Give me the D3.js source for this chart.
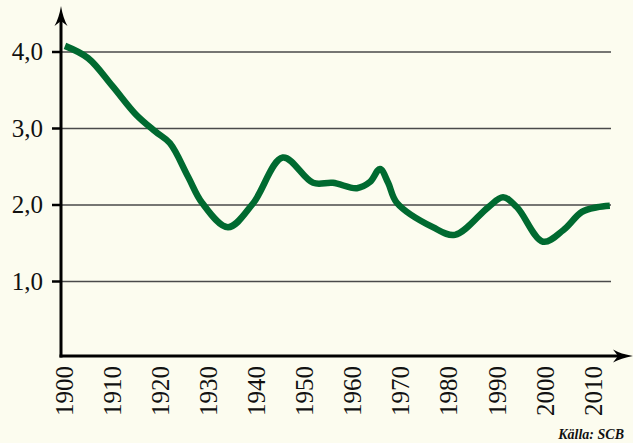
<!DOCTYPE html>
<html>
<head>
<meta charset="utf-8">
<script src="https://cdn.jsdelivr.net/npm/d3@7"></script>
<style>
  html, body { margin: 0; padding: 0; background: #fcfcef; }
  svg { display: block; }
</style>
</head>
<body>
<script>
// Summerad fruktsamhet, avläst ur kurvan
const years  = [1900.2, 1905, 1910, 1915, 1919, 1922, 1925.8, 1928.7, 1934.1, 1939.3, 1945.5, 1951.8, 1955.9,
                1960.9, 1963.6, 1965.7, 1967.4, 1969.2, 1976.7, 1981.3, 1988.2, 1991.3, 1994.2, 1999.6,
                2003.8, 2007.7, 2010.8, 2013.5];
const values = [4.08, 3.92, 3.56, 3.18, 2.96, 2.81, 2.37, 2.03, 1.71, 2.02, 2.62, 2.29, 2.29,
                2.22, 2.30, 2.47, 2.29, 2.03, 1.71, 1.61, 1.97, 2.10, 1.97, 1.52,
                1.67, 1.91, 1.97, 1.99];
const yTicks = [1, 2, 3, 4];
const xTicks = [1900, 1910, 1920, 1930, 1940, 1950, 1960, 1970, 1980, 1990, 2000, 2010];

const width = 633, height = 443;

const x = d3.scaleLinear().domain([1900, 2010]).range([64, 593]);
const y = d3.scaleLinear().domain([0, 4]).range([358, 52]);

const axisX = 61, axisY = 356, gridEnd = 611;
const formatComma = d => d3.format('.1f')(d).replace('.', ',');

const svg = d3.select('body').append('svg')
    .attr('width', width)
    .attr('height', height)
    .style('font-family', '"Liberation Serif", "Times New Roman", serif');

svg.append('rect')
    .attr('width', width).attr('height', height)
    .attr('fill', '#fcfcef');

// horisontella stödlinjer
svg.selectAll('line.grid')
    .data(yTicks)
    .join('line')
    .attr('class', 'grid')
    .attr('x1', axisX).attr('x2', gridEnd)
    .attr('y1', d => y(d)).attr('y2', d => y(d))
    .attr('stroke', '#4a4a4a')
    .attr('stroke-width', 1.3);

// små streck vid y-axeln
svg.selectAll('line.ytick')
    .data(yTicks)
    .join('line')
    .attr('class', 'ytick')
    .attr('x1', axisX - 9).attr('x2', axisX)
    .attr('y1', d => y(d)).attr('y2', d => y(d))
    .attr('stroke', '#000')
    .attr('stroke-width', 2.5);

svg.selectAll('text.ylab')
    .data(yTicks)
    .join('text')
    .attr('class', 'ylab')
    .attr('x', axisX - 18)
    .attr('y', d => y(d))
    .attr('dy', '0.33em')
    .attr('text-anchor', 'end')
    .attr('font-size', 25)
    .attr('fill', '#111')
    .text(formatComma);

svg.selectAll('text.xlab')
    .data(xTicks)
    .join('text')
    .attr('class', 'xlab')
    .attr('transform', d => `translate(${x(d)},366) rotate(-90)`)
    .attr('dy', '0.35em')
    .attr('text-anchor', 'end')
    .attr('font-size', 25)
    .attr('fill', '#111')
    .text(d => d);

// kurvan
const line = d3.line()
    .x((d, i) => x(years[i]))
    .y(d => y(d))
    .curve(d3.curveCatmullRom.alpha(0.5));

svg.append('path')
    .datum(values)
    .attr('d', line)
    .attr('fill', 'none')
    .attr('stroke', '#006a30')
    .attr('stroke-width', 6.5)
    .attr('stroke-linejoin', 'round')
    .attr('stroke-linecap', 'butt');

// axlar med pilar
svg.append('line')
    .attr('x1', axisX).attr('x2', axisX)
    .attr('y1', 18).attr('y2', axisY + 1.5)
    .attr('stroke', '#000').attr('stroke-width', 3);

svg.append('line')
    .attr('x1', axisX - 1.5).attr('x2', 622)
    .attr('y1', axisY).attr('y2', axisY)
    .attr('stroke', '#000').attr('stroke-width', 3);

const arrowUp = d3.path();
arrowUp.moveTo(axisX, 6);
arrowUp.quadraticCurveTo(axisX + 2, 18, axisX + 6.5, 26);
arrowUp.lineTo(axisX, 21);
arrowUp.lineTo(axisX - 6.5, 26);
arrowUp.quadraticCurveTo(axisX - 2, 18, axisX, 6);
arrowUp.closePath();

const arrowRight = d3.path();
arrowRight.moveTo(633, axisY);
arrowRight.quadraticCurveTo(621, axisY + 2, 613, axisY + 6.5);
arrowRight.lineTo(618, axisY);
arrowRight.lineTo(613, axisY - 6.5);
arrowRight.quadraticCurveTo(621, axisY - 2, 633, axisY);
arrowRight.closePath();

svg.append('path').attr('d', arrowUp.toString()).attr('fill', '#000');
svg.append('path').attr('d', arrowRight.toString()).attr('fill', '#000');

svg.append('text')
    .attr('x', 624)
    .attr('y', 439)
    .attr('text-anchor', 'end')
    .attr('font-size', 14)
    .attr('font-style', 'italic')
    .attr('font-weight', 'bold')
    .attr('fill', '#111')
    .text('Källa: SCB');
</script>
</body>
</html>
